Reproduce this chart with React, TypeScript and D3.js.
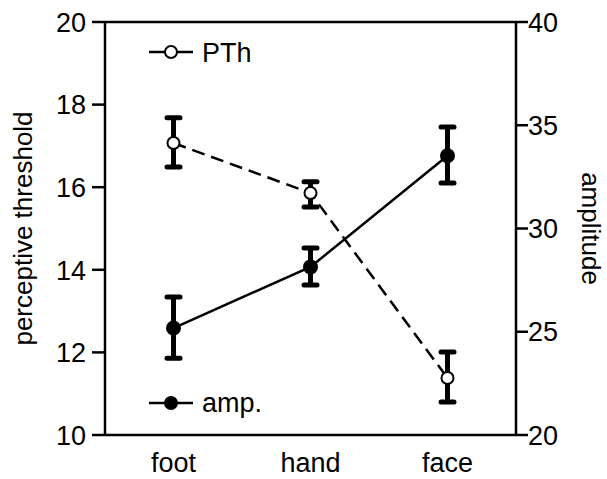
import React from "react";
import * as d3 from "d3";

const categories = ["foot", "hand", "face"];
const pthMean = [17.07, 15.86, 11.38];
const pthLow = [16.49, 15.52, 10.8];
const pthHigh = [17.68, 16.13, 12.01];
const ampMean = [25.18, 28.14, 33.52];
const ampLow = [23.72, 27.26, 32.2];
const ampHigh = [26.68, 29.06, 34.92];
const leftTicks = [10, 12, 14, 16, 18, 20];
const rightTicks = [20, 25, 30, 35, 40];

const W = 607, H = 479;
const left = 105, right = 516, top = 22, bottom = 435;
const font = "Liberation Sans, Arial, sans-serif";

export default function App() {
  const x = d3.scalePoint<string>().domain(categories).range([left, right]).padding(0.5);
  const yL = d3.scaleLinear().domain([10, 20]).range([bottom, top]);
  const yR = d3.scaleLinear().domain([20, 40]).range([bottom, top]);
  const line = d3.line<[number, number]>().x(d => d[0]).y(d => d[1]);
  const pthPts: [number, number][] = categories.map((c, i) => [x(c)!, yL(pthMean[i])]);
  const ampPts: [number, number][] = categories.map((c, i) => [x(c)!, yR(ampMean[i])]);

  const errBar = (cx: number, y1: number, y2: number, k: string) => (
    <g key={k}>
      <line x1={cx} x2={cx} y1={y1} y2={y2} stroke="#000" strokeWidth={5} />
      <line x1={cx - 6.5} x2={cx + 6.5} y1={y1} y2={y1} stroke="#000" strokeWidth={5} strokeLinecap="round" />
      <line x1={cx - 6.5} x2={cx + 6.5} y1={y2} y2={y2} stroke="#000" strokeWidth={5} strokeLinecap="round" />
    </g>
  );

  return (
    <svg width={W} height={H} style={{ position: "absolute", left: 0, top: 0 }} fontFamily={font}>
      <rect width={W} height={H} fill="#fff" />
      {/* frame */}
      <line x1={left} x2={right} y1={top} y2={top} stroke="#000" strokeWidth={2.5} />
      <line x1={left} x2={right} y1={bottom} y2={bottom} stroke="#000" strokeWidth={2.5} />
      <line x1={left} x2={left} y1={top} y2={bottom} stroke="#000" strokeWidth={2.5} />
      <line x1={right} x2={right} y1={top} y2={bottom} stroke="#000" strokeWidth={2.5} />
      {leftTicks.map(t => (
        <g key={"l" + t}>
          <line x1={left - 13} x2={left} y1={yL(t)} y2={yL(t)} stroke="#000" strokeWidth={2.5} />
          <text x={left - 19} y={yL(t)} dy="0.36em" textAnchor="end" fontSize={27}>{t}</text>
        </g>
      ))}
      {rightTicks.map(t => (
        <g key={"r" + t}>
          <line x1={right} x2={right + 12} y1={yR(t)} y2={yR(t)} stroke="#000" strokeWidth={2.5} />
          <text x={right + 12} y={yR(t)} dy="0.36em" textAnchor="start" fontSize={27}>{t}</text>
        </g>
      ))}
      {categories.map(c => (
        <text key={c} x={x(c)!} y={472} textAnchor="middle" fontSize={27}>{c}</text>
      ))}
      <text transform={`translate(23,${(top + bottom) / 2}) rotate(-90)`} textAnchor="middle" dy="0.35em" fontSize={26}>perceptive threshold</text>
      <text transform={`translate(591,${(top + bottom) / 2}) rotate(90)`} textAnchor="middle" dy="0.35em" fontSize={26}>amplitude</text>

      {/* error bars */}
      {categories.map((c, i) => errBar(x(c)!, yL(pthHigh[i]), yL(pthLow[i]), "pe" + i))}
      {categories.map((c, i) => errBar(x(c)!, yR(ampHigh[i]), yR(ampLow[i]), "ae" + i))}

      {/* lines */}
      <path d={line(pthPts)!} fill="none" stroke="#000" strokeWidth={2.5} strokeDasharray="13,7" />
      <path d={line(ampPts)!} fill="none" stroke="#000" strokeWidth={2.5} />
      {pthPts.map((p, i) => <circle key={"pc" + i} cx={p[0]} cy={p[1]} r={6} fill="#fff" stroke="#000" strokeWidth={2} />)}
      {ampPts.map((p, i) => <circle key={"ac" + i} cx={p[0]} cy={p[1]} r={7.5} fill="#000" />)}

      {/* legend */}
      <line x1={149} x2={193} y1={52} y2={52} stroke="#000" strokeWidth={2.5} />
      <circle cx={171} cy={52} r={6} fill="#fff" stroke="#000" strokeWidth={2} />
      <text x={202} y={62} fontSize={27}>PTh</text>
      <line x1={149} x2={193} y1={403} y2={403} stroke="#000" strokeWidth={2.5} />
      <circle cx={171} cy={403} r={7} fill="#000" />
      <text x={202} y={412} fontSize={27}>amp.</text>
    </svg>
  );
}
